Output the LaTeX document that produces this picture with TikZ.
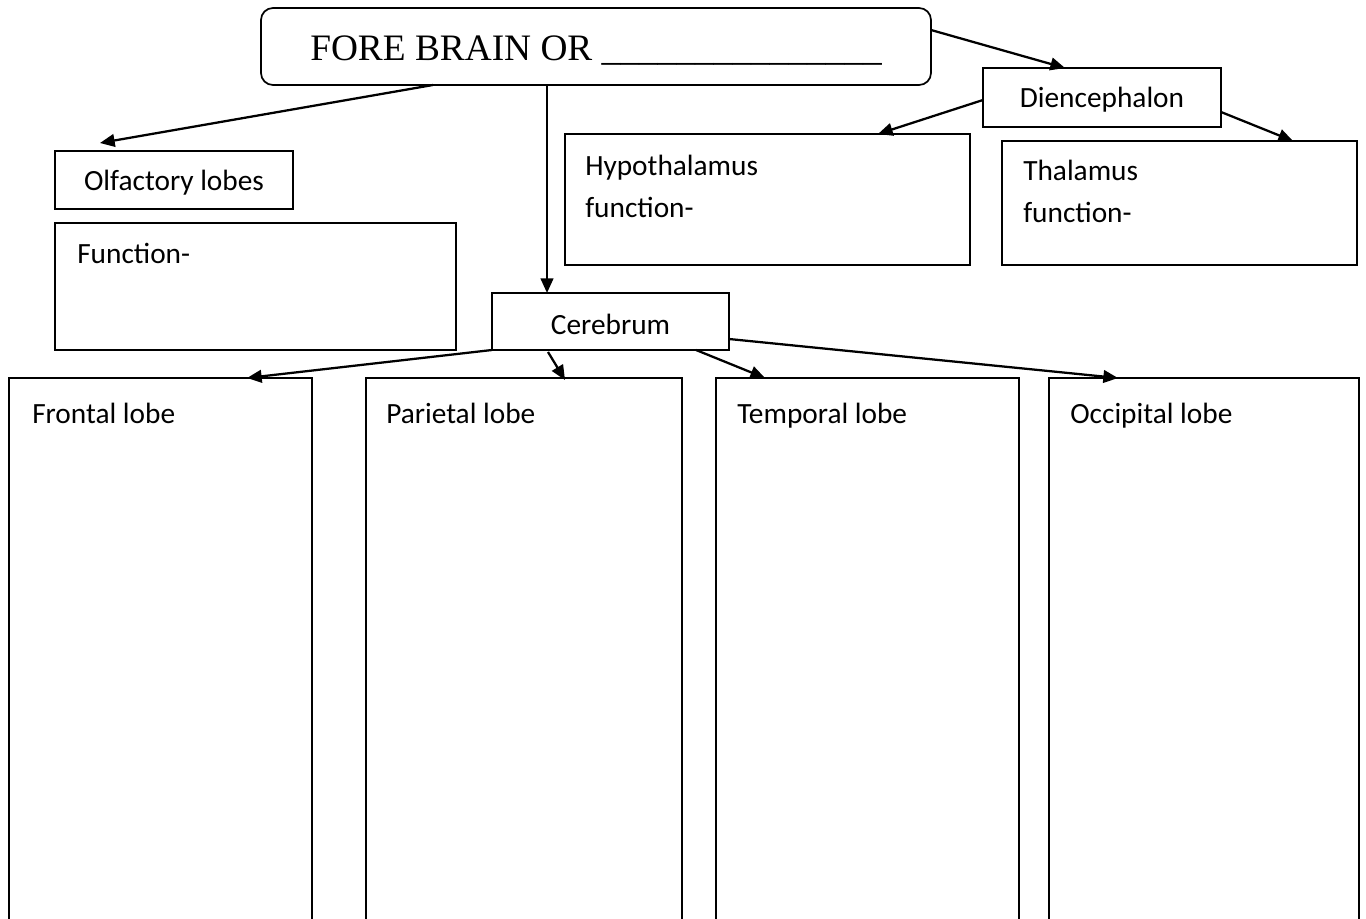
\documentclass[tikz,border=0pt]{standalone}
\usepackage{fontspec}
\setmainfont{Carlito}
\newfontfamily\timesf{Liberation Serif}
\usetikzlibrary{arrows.meta,calc}
\tikzset{
  box/.style={draw, line width=1.3pt, anchor=north west, inner sep=0pt, outer sep=0pt},
  lbl/.style={anchor=base west, inner sep=0pt, font=\fontsize{22pt}{26pt}\selectfont},
  clbl/.style={anchor=center, inner sep=0pt, yshift=-2pt, font=\fontsize{22pt}{26pt}\selectfont},
  conn/.style={line width=1.7pt, -{Triangle[length=11pt,width=9.5pt]}},
}
\begin{document}
\begin{tikzpicture}[x=0.75pt,y=-0.75pt]
\useasboundingbox (0,0) rectangle (1366,919);
\clip (0,0) rectangle (1366,919);
% top rounded box
\node[box, rounded corners=9pt, minimum width=670*0.75pt, minimum height=77*0.75pt] (fb) at (261,8) {};
\node[anchor=base west, inner sep=0pt, font=\timesf\fontsize{28pt}{30pt}\selectfont] (fbt) at (310,61) {FORE BRAIN OR \_\_\_\_\_\_\_\_\_\_\_\_\_\_\_};
% diencephalon
\node[box, minimum width=238*0.75pt, minimum height=59*0.75pt] (di) at (983,68) {};
\node[clbl] (dit) at (di.center) {Diencephalon};
% olfactory
\node[box, minimum width=238*0.75pt, minimum height=58*0.75pt] (ol) at (55,151) {};
\node[clbl] (olt) at (ol.center) {Olfactory lobes};
\node[box, minimum width=401*0.75pt, minimum height=127*0.75pt] (fn) at (55,223) {};
\node[lbl] (fnt) at (77,264) {Function-};
% hypothalamus
\node[box, minimum width=405*0.75pt, minimum height=131*0.75pt] (hy) at (565,134) {};
\node[lbl] (hyt) at (585,176) {Hypothalamus};
\node[lbl] (hyf) at (585,218) {function-};
% thalamus
\node[box, minimum width=355*0.75pt, minimum height=124*0.75pt] (th) at (1002,141) {};
\node[lbl] (tht) at (1023,181) {Thalamus};
\node[lbl] (thf) at (1023,223) {function-};
% cerebrum
\node[box, minimum width=237*0.75pt, minimum height=57*0.75pt] (ce) at (492,293) {};
\node[clbl] (cet) at (ce.center) {Cerebrum};
% lobes
\node[box, minimum width=303*0.75pt, minimum height=600*0.75pt] (fr) at (9,378) {};
\node[lbl] (frt) at (32,423) {Frontal lobe};
\node[box, minimum width=316*0.75pt, minimum height=600*0.75pt] (pa) at (366,378) {};
\node[lbl] (pat) at (386,423) {Parietal lobe};
\node[box, minimum width=303*0.75pt, minimum height=600*0.75pt] (te) at (716,378) {};
\node[lbl] (tet) at (737,423) {Temporal lobe};
\node[box, minimum width=310*0.75pt, minimum height=600*0.75pt] (oc) at (1049,378) {};
\node[lbl] (oct) at (1070,423) {Occipital lobe};
% connectors
\draw[conn] ($(fb.north east)+(0,22)$) -- ($(di.north west)+(82,0)$);
\draw[conn] ($(fb.south west)+(172,0)$) -- ($(ol.north west)+(45,-8)$);
\draw[conn] ($(fb.south west)+(286,0)$) -- ($(ce.north west)+(55,0)$);
\draw[conn] ($(di.north west)+(0,32)$) -- ($(hy.north west)+(313,0)$);
\draw[conn] ($(di.south east)+(0,-15)$) -- ($(th.north west)+(291,0)$);
\draw[conn] (ce.south west) -- ($(fr.north west)+(238,0)$);
\draw[conn] ($(ce.south west)+(56,2)$) -- ($(pa.north west)+(199,2)$);
\draw[conn] ($(ce.south west)+(204,0)$) -- ($(te.north west)+(49,0)$);
\draw[conn] ($(ce.south east)+(0,-11)$) -- ($(oc.north west)+(69,0)$);
\end{tikzpicture}
\end{document}
